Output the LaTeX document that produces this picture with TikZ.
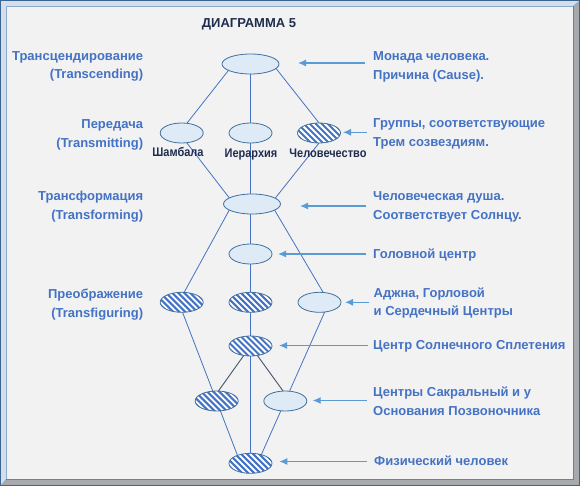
\documentclass[tikz,border=0pt]{standalone}
\usepackage{fontspec}
\setmainfont{Liberation Sans}
\newfontfamily\narrowfont[FakeStretch=0.88]{Liberation Sans}
\usetikzlibrary{arrows.meta,calc,shapes.geometric}
\pgfdeclarelayer{bg}
\pgfdeclarelayer{lines}
\pgfsetlayers{bg,lines,main}
\definecolor{lblue}{HTML}{4472C4}
\definecolor{arrblue}{HTML}{5B9BD5}
\definecolor{edgeblue}{HTML}{41719C}
\definecolor{fillblue}{HTML}{DEEBF7}
\definecolor{navy}{HTML}{1F2D4F}
\definecolor{darkline}{HTML}{44546A}
\definecolor{bgray}{HTML}{F2F2F2}
\definecolor{frameblue}{HTML}{3A6596}
\definecolor{bevellight}{HTML}{D5DFEC}
\definecolor{bevelgray}{HTML}{A6A9AD}
\definecolor{innerline}{HTML}{8EA9CF}
\tikzset{
  ell/.style={ellipse, draw=edgeblue, fill=fillblue, line width=0.8pt,
    minimum width=57, minimum height=20, inner sep=0},
  smallell/.style={ell, minimum width=43},
  hatchell/.style={smallell, fill=white, path picture={
    \foreach \k in {-54,-48,...,54}{
      \draw[lblue, line width=2.1pt]
        ($(path picture bounding box.center)+(\k-16,-16)$) -- ++(32,32);}}},
  conn/.style={lblue, line width=0.8pt},
  darkconn/.style={darkline, line width=0.9pt},
  arr/.style={arrblue, line width=1.2pt, -{Latex[length=8pt,width=7pt]}},
  lbl/.style={lblue, inner sep=0, font=\bfseries\fontsize{13}{18.8}\selectfont},
  ttl/.style={navy, inner sep=0, font=\bfseries\fontsize{13}{16}\selectfont},
  nlab/.style={navy, inner sep=0, font=\narrowfont\bfseries\fontsize{12.5}{14}\selectfont},
}
\begin{document}
\begin{tikzpicture}[x=1pt,y=-1pt]
\useasboundingbox (0,0) rectangle (580,486);
% frame
\begin{pgfonlayer}{bg}
  \fill[bevellight] (0,0) rectangle (580,486);
  \fill[bevelgray] (580,0) -- (580,486) -- (0,486) -- (6,479) -- (573,479) -- (573,6) -- cycle;
  \draw[frameblue, line width=1.2pt] (0.6,0.6) rectangle (579.4,485.4);
  \fill[bgray] (6,6) rectangle (573,479);
  \draw[innerline, line width=0.8pt] (6,479) -- (6,6) -- (573,6);
  \draw[frameblue!80, line width=0.8pt] (6,479) -- (573,479) -- (573,6);
\end{pgfonlayer}

% title
\node[ttl] (title) at (249,24) {ДИАГРАММА 5};

% ellipses
\node[ell] (top) at (250.5,64) {};
\node[smallell] (sh) at (181.7,133) {};
\node[smallell] (ie) at (250.5,133) {};
\node[hatchell] (ch) at (319,133) {};
\node[ell] (tf) at (252,204) {};
\node[smallell] (hd) at (250.5,254) {};
\node[hatchell] (lh) at (181.7,302.3) {};
\node[hatchell] (mh) at (250.5,302.3) {};
\node[smallell] (rl) at (319.5,302.3) {};
\node[hatchell] (sp) at (250.5,346) {};
\node[hatchell] (sl) at (216.7,401) {};
\node[smallell] (sr) at (285.3,401) {};
\node[hatchell] (ph) at (250.5,463.3) {};

% connectors
\begin{pgfonlayer}{lines}
  \draw[conn] (top.center) -- (ph.center);
  \draw[conn] ($(top)+(-17,0)$) -- ($(sh)+(-2.5,0)$) -- ($(tf)+(-18,0)$);
  \draw[conn] ($(top)+(22,0)$) -- ($(ch)+(8,0)$) -- ($(tf)+(18.6,0)$);
  \draw[conn] ($(tf)+(-19.4,0)$) -- ($(lh)+(-3,0)$) -- ($(ph)+(-10,0)$);
  \draw[conn] ($(tf)+(19,0)$) -- ($(rl)+(9.5,0)$) -- ($(ph)+(7,0)$);
  \draw[darkconn] (sp.center) -- ($(sl)+(-5.4,0)$);
  \draw[darkconn] (sp.center) -- ($(sr)+(5,0)$);
\end{pgfonlayer}

% node labels
\node[nlab, anchor=base] (shl) at (178,157) {Шамбала};
\node[nlab, anchor=base] (iel) at (251,157.5) {Иерархия};
\node[nlab, anchor=base] (chl) at (328,157.5) {Человечество};

% left labels
\node[lbl, anchor=east, align=right] (l1) at (143.3,66.5) {Трансцендирование\\(Transcending)};
\node[lbl, anchor=east, align=right] (l2) at (143.3,134.8) {Передача\\(Transmitting)};
\node[lbl, anchor=east, align=right] (l3) at (143.3,206.8) {Трансформация\\(Transforming)};
\node[lbl, anchor=east, align=right] (l4) at (143.3,304.5) {Преображение\\(Transfiguring)};

% right labels
\node[lbl, anchor=west, align=left] (r1) at (373,66.5) {Монада человека.\\Причина (Cause).};
\node[lbl, anchor=west, align=left] (r2) at (373,134) {Группы, соответствующие\\Трем созвездиям.};
\node[lbl, anchor=west, align=left] (r3) at (373,206.8) {Человеческая душа.\\Соответствует Солнцу.};
\node[lbl, anchor=west] (r4) at (373,255) {Головной центр};
\node[lbl, anchor=west, align=left] (r5) at (373.5,303) {Аджна, Горловой\\и Сердечный Центры};
\node[lbl, anchor=west] (r6) at (373,346.5) {Центр Солнечного Сплетения};
\node[lbl, anchor=west, align=left] (r7) at (373,401) {Центры Сакральный и у\\Основания Позвоночника};
\node[lbl, anchor=west] (r8) at (374,461) {Физический человек};

% arrows
\coordinate (a1s) at (365,63);    \coordinate (a1e) at (298,63);
\coordinate (a2s) at (367,132.3); \coordinate (a2e) at (343,132.3);
\coordinate (a3s) at (366,206);   \coordinate (a3e) at (300,206);
\coordinate (a4s) at (366,254);   \coordinate (a4e) at (278,254);
\coordinate (a5s) at (369,302.3); \coordinate (a5e) at (345,302.3);
\coordinate (a6s) at (367.7,345.5); \coordinate (a6e) at (279,345.5);
\coordinate (a7s) at (366.7,400.5); \coordinate (a7e) at (312.7,400.5);
\coordinate (a8s) at (367.3,461.5); \coordinate (a8e) at (279.3,461.5);
\foreach \i in {1,...,8}{\draw[arr] (a\i s) -- (a\i e);}
\end{tikzpicture}
\end{document}
